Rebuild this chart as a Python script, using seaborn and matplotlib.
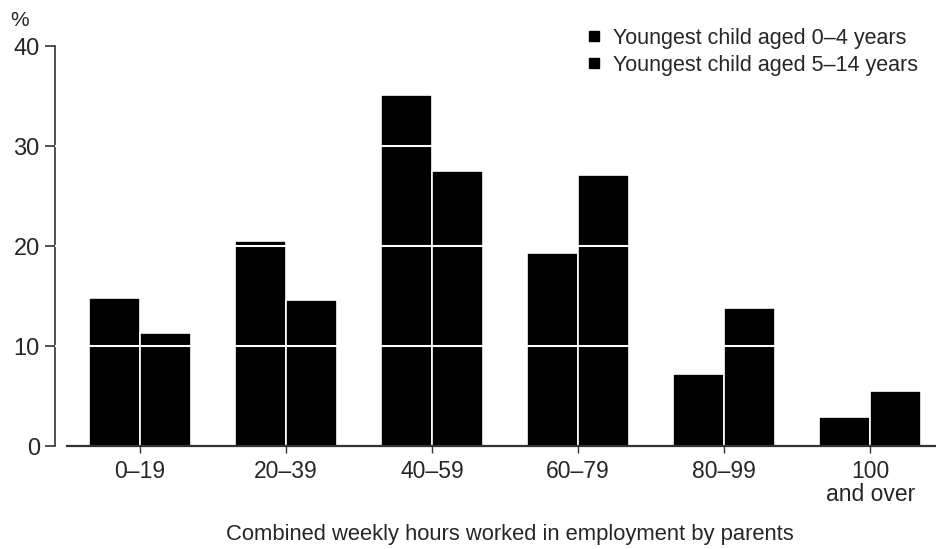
import pandas as pd
import matplotlib
matplotlib.use('Agg')
import matplotlib.pyplot as plt
from matplotlib.lines import Line2D
import seaborn as sns

# Dados
categorias = ['0–19', '20–39', '40–59', '60–79', '80–99', '100\nand over']
idade_0_4 = [14.8, 20.5, 35.1, 19.3, 7.2, 2.9]
idade_5_14 = [11.3, 14.6, 27.5, 27.1, 13.8, 5.5]
series = ['Youngest child aged 0–4 years', 'Youngest child aged 5–14 years']

df = pd.DataFrame({
    'Horas': categorias * 2,
    'Percentual': idade_0_4 + idade_5_14,
    'Grupo': [series[0]] * len(categorias) + [series[1]] * len(categorias),
})

sns.set_style('white')
plt.rcParams['font.family'] = ['Liberation Sans', 'DejaVu Sans']

fig = plt.figure(figsize=(9.36, 5.49), dpi=100)
ax = fig.add_axes([0.0588, 0.1876, 0.9412, 0.7286])

sns.barplot(data=df, x='Horas', y='Percentual', hue='Grupo',
            palette=['black', 'black'], width=0.70, saturation=1,
            edgecolor='white', linewidth=1.2, ax=ax, legend=False)

ax.set_ylim(0, 40)
ax.set_xlim(-0.58, 5.45)
ax.set_yticks([0, 10, 20, 30, 40])
for v in [10, 20, 30]:
    ax.axhline(v, color='white', lw=1.5, zorder=5)

for s in ['top', 'right']:
    ax.spines[s].set_visible(False)
ax.spines['left'].set_color('#333333')
ax.spines['bottom'].set_color('#333333')
ax.spines['left'].set_linewidth(1.2)
ax.spines['bottom'].set_linewidth(1.6)
ax.spines['bottom'].set_bounds(-0.5, 5.45)

ax.tick_params(axis='y', left=True, length=7, width=1.2, color='#333333',
               labelsize=17, pad=4)
ax.tick_params(axis='x', bottom=True, length=5, width=1.0, color='#333333',
               labelsize=16.5, pad=5)
for lab in ax.get_xticklabels():
    lab.set_linespacing(1.0)
ax.set_xlabel('')
ax.set_ylabel('')
fig.text(0.545, 0.026, 'Combined weekly hours worked in employment by parents',
         fontsize=15.8, ha='center', va='center')
ax.text(-0.03, 1.04, '%', transform=ax.transAxes, fontsize=15,
        ha='right', va='bottom')

handles = [Line2D([0], [0], marker='s', color='black', lw=0, markersize=7)
           for _ in series]
fig.legend(handles, series, loc='upper right', bbox_to_anchor=(0.99, 0.965),
           frameon=False, fontsize=15.5, handlelength=0.6, handletextpad=0.6,
           labelspacing=0.28, borderaxespad=0)

fig.savefig('out.png', dpi=100)
